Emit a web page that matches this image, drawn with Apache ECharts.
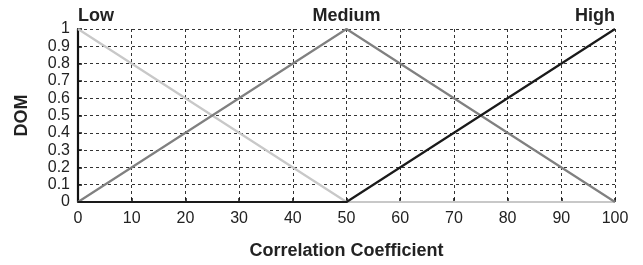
<!doctype html>
<html>
    <head>
        <meta charset="utf-8">
        <title>DOM vs Correlation Coefficient</title>
        <style>
            html, body { margin: 0; padding: 0; background: #fff; }
            #main { width: 643px; height: 265px; }
        </style>
    </head>
    <body>
        <div id="main"></div>
        <script src="https://cdn.jsdelivr.net/npm/echarts@6/dist/echarts.min.js"></script>
        <script>
            var chart = echarts.init(document.getElementById('main'));

            // membership functions, [x, DOM]
            var lowPts = [[0, 1], [50, 0], [100, 0]];
            var mediumPts = [[0, 0], [50, 1], [100, 0]];
            var highPts = [[0, 0], [50, 0], [100, 1]];
            var setNames = ['Low', 'Medium', 'High'];
            var labelIdx = [0, 1, 2];   // which point carries the set name

            var font = "'Liberation Sans', Arial, Helvetica, sans-serif";

            // only the labelled point gets an (invisible) symbol so its label is drawn
            function withLabel(pts, idx, text, align) {
                return pts.map(function (p, i) {
                    if (i !== idx) return { value: p, symbol: 'none' };
                    return {
                        value: p,
                        symbol: 'circle', symbolSize: 1,
                        itemStyle: { color: 'rgba(0,0,0,0)' },
                        label: {
                            show: true, position: 'top', distance: 3, align: align,
                            formatter: text, fontFamily: font, fontWeight: 'bold',
                            fontSize: 18, color: '#222'
                        }
                    };
                });
            }

            function mkSeries(name, pts, color, idx, align, z) {
                return {
                    name: name, type: 'line', data: withLabel(pts, idx, name, align),
                    showSymbol: true, z: z, animation: false, silent: true,
                    lineStyle: { color: color, width: 2.2 }
                };
            }

            var gridLine = { show: true, lineStyle: { color: '#333', type: [3, 3], width: 1 } };

            chart.setOption({
                grid: { left: 78, right: 28, top: 29, bottom: 60 },
                xAxis: {
                    type: 'value', min: 0, max: 100, interval: 10,
                    name: 'Correlation Coefficient', nameLocation: 'middle', nameGap: 40,
                    nameTextStyle: { fontFamily: font, fontWeight: 'bold', fontSize: 18, color: '#222' },
                    axisLine: { show: false },
                    axisTick: { show: true, inside: true, length: 4, lineStyle: { color: '#111', width: 1.5 } },
                    axisLabel: { fontFamily: font, fontSize: 16, color: '#222', margin: 9 },
                    splitLine: gridLine
                },
                yAxis: {
                    type: 'value', min: 0, max: 1, interval: 0.1,
                    name: 'DOM', nameLocation: 'middle', nameGap: 47, nameRotate: 90,
                    nameTextStyle: { fontFamily: font, fontWeight: 'bold', fontSize: 18, color: '#222' },
                    axisLine: { show: true, lineStyle: { color: '#111', width: 2.2 } },
                    axisTick: { show: true, inside: true, length: 4, lineStyle: { color: '#111', width: 1.5 } },
                    axisLabel: { fontFamily: font, fontSize: 16, color: '#222', margin: 8,
                        formatter: function (v) { return String(Math.round(v * 10) / 10); } },
                    splitLine: gridLine
                },
                series: [
                    mkSeries(setNames[0], lowPts, '#c8c8c8', labelIdx[0], 'left', 3),
                    mkSeries(setNames[1], mediumPts, '#808080', labelIdx[1], 'center', 4),
                    mkSeries(setNames[2], highPts, '#1a1a1a', labelIdx[2], 'right', 5)
                ]
            });

            window.addEventListener('resize', function () {
                chart.resize();
            });
        </script>
    </body>
</html>
